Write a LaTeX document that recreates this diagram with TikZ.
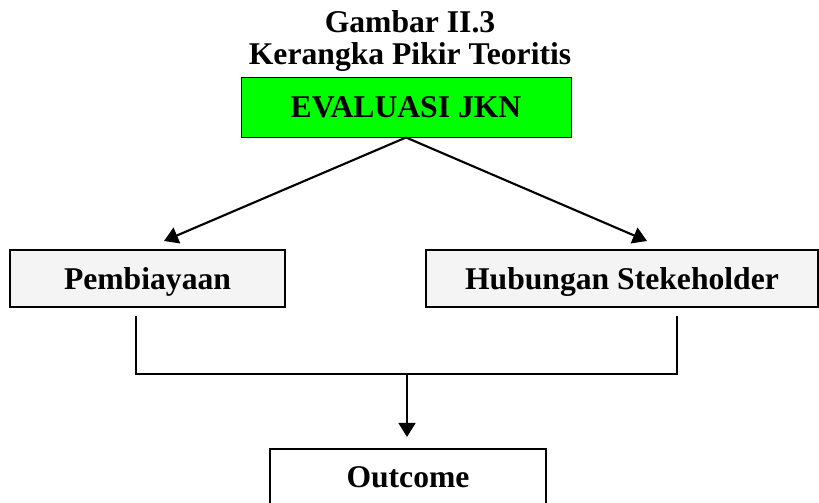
\documentclass[tikz,border=0pt]{standalone}
\usepackage{fontspec}
\setmainfont{Liberation Serif}
\usepackage{xcolor}
\usetikzlibrary{arrows.meta, positioning}
\definecolor{hijau}{RGB}{0,255,0}
\definecolor{abu}{RGB}{244,244,244}

\begin{document}
\begin{tikzpicture}[x=0.025cm, y=-0.025cm,
  teks/.style={font=\fontsize{22.5}{26}\selectfont\bfseries, inner sep=0pt},
  kotak/.style={teks, draw, line width=1.4pt, fill=abu, text height=15pt, text depth=0pt},
  garis/.style={line width=1.5pt},
  panah/.style={garis, -{Triangle[length=10pt, width=12pt]}}]
\useasboundingbox (0,0) rectangle (819,503);
\node[teks, anchor=base] (judul) at (410,33) {Gambar II.3};
\node[teks, anchor=base] (subjudul) at (410,65) {Kerangka Pikir Teoritis};
\node[teks, draw, line width=0.7pt, fill=hijau, text height=15pt, text depth=0pt, minimum width=330*0.025cm, minimum height=60*0.025cm] (evaluasi) at (406,107) {EVALUASI JKN};
\node[kotak, minimum width=275*0.025cm, minimum height=57*0.025cm] (pembiayaan) at (147.5,278.5) {Pembiayaan};
\node[kotak, minimum width=392*0.025cm, minimum height=57*0.025cm] (hubungan) at (622,278.5) {Hubungan Stekeholder};
\node[kotak, fill=white, minimum width=276*0.025cm, minimum height=56*0.025cm, anchor=north] (outcome) at (408,448) {Outcome};
% titik bantu
\coordinate (kiri) at (164,241);
\coordinate (kanan) at (647,241);
\coordinate (kakiA) at (136,316);
\coordinate (sudutA) at (136,374);
\coordinate (sudutB) at (677,374);
\coordinate (kakiB) at (677,316);
\coordinate (tengah) at (407,374);
\coordinate (ujung) at (407,437);
\draw[panah] (evaluasi.south) -- (kiri);
\draw[panah] (evaluasi.south) -- (kanan);
\draw[garis] (kakiA) -- (sudutA) -- (sudutB) -- (kakiB);
\draw[panah] (tengah) -- (ujung);
\end{tikzpicture}
\end{document}
